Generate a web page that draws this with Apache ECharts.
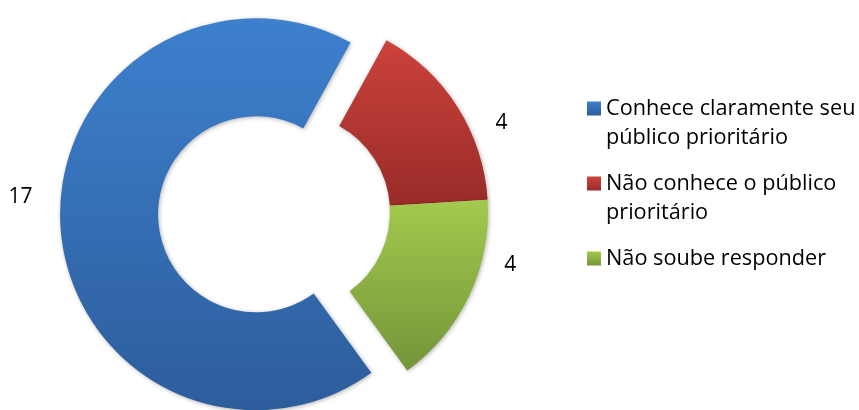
<!DOCTYPE html>
<html>
<head>
<meta charset="utf-8">
<script src="https://cdn.jsdelivr.net/npm/echarts@6/dist/echarts.min.js"></script>
<style>
  html, body { margin: 0; padding: 0; background: #fff; }
  #chart { width: 859px; height: 410px; }
</style>
</head>
<body>
<div id="chart"></div>
<script>
// Categories and counts
const categories = [
  'Conhece claramente seu público prioritário',
  'Não conhece o público prioritário',
  'Não soube responder'
];
// Legend text, wrapped; the leading blank line keeps the first text line level with the swatch
const legendLines = [
  '\nConhece claramente seu\npúblico prioritário',
  '\nNão conhece o público\nprioritário',
  '\nNão soube responder\n '
];
const values = [17, 4, 4];

// Vertical gradients per slice: [top, bottom]
const sliceColors = [
  ['#3d80ce', '#2d5d9b'],
  ['#cd423c', '#982b28'],
  ['#a3c94c', '#74953a']
];

// Small nudges so the value labels sit where they read best
const labelNudge = [[-23, -30], [33, 16], [30, -30]];

const FONT = '"Open Sans", sans-serif';

function grad(c) {
  return new echarts.graphic.LinearGradient(0, 0, 0, 1, [
    { offset: 0, color: c[0] },
    { offset: 1, color: c[1] }
  ]);
}

const chart = echarts.init(document.getElementById('chart'), null, { renderer: 'canvas' });

chart.setOption({
  animation: false,
  backgroundColor: '#ffffff',
  legend: {
    orient: 'vertical',
    left: 587,
    top: 65,
    padding: 0,
    itemWidth: 14,
    itemHeight: 14,
    itemGap: -12,
    icon: 'rect',
    selectedMode: false,
    data: categories,
    formatter: function (name) {
      return legendLines[categories.indexOf(name)];
    },
    textStyle: {
      fontFamily: FONT,
      fontSize: 21.7,
      color: '#000',
      lineHeight: 29
    }
  },
  series: [{
    type: 'pie',
    center: [292, 212],
    radius: [98, 196],
    startAngle: -54,
    clockwise: true,
    selectedMode: 'single',
    selectedOffset: 36,
    avoidLabelOverlap: false,
    emphasis: { disabled: true },
    itemStyle: {
      shadowBlur: 4,
      shadowColor: 'rgba(0,0,0,0.3)',
      shadowOffsetX: 1,
      shadowOffsetY: 1
    },
    label: {
      show: true,
      position: 'outside',
      formatter: '{c}',
      fontFamily: FONT,
      fontSize: 21,
      color: '#000'
    },
    labelLine: { show: false, length: 0, length2: 0 },
    labelLayout: function (p) {
      const n = labelNudge[p.dataIndex];
      return { dx: n[0], dy: n[1] };
    },
    data: categories.map(function (name, i) {
      return {
        name: name,
        value: values[i],
        selected: i === 0,
        itemStyle: { color: grad(sliceColors[i]) }
      };
    })
  }]
});
</script>
</body>
</html>
